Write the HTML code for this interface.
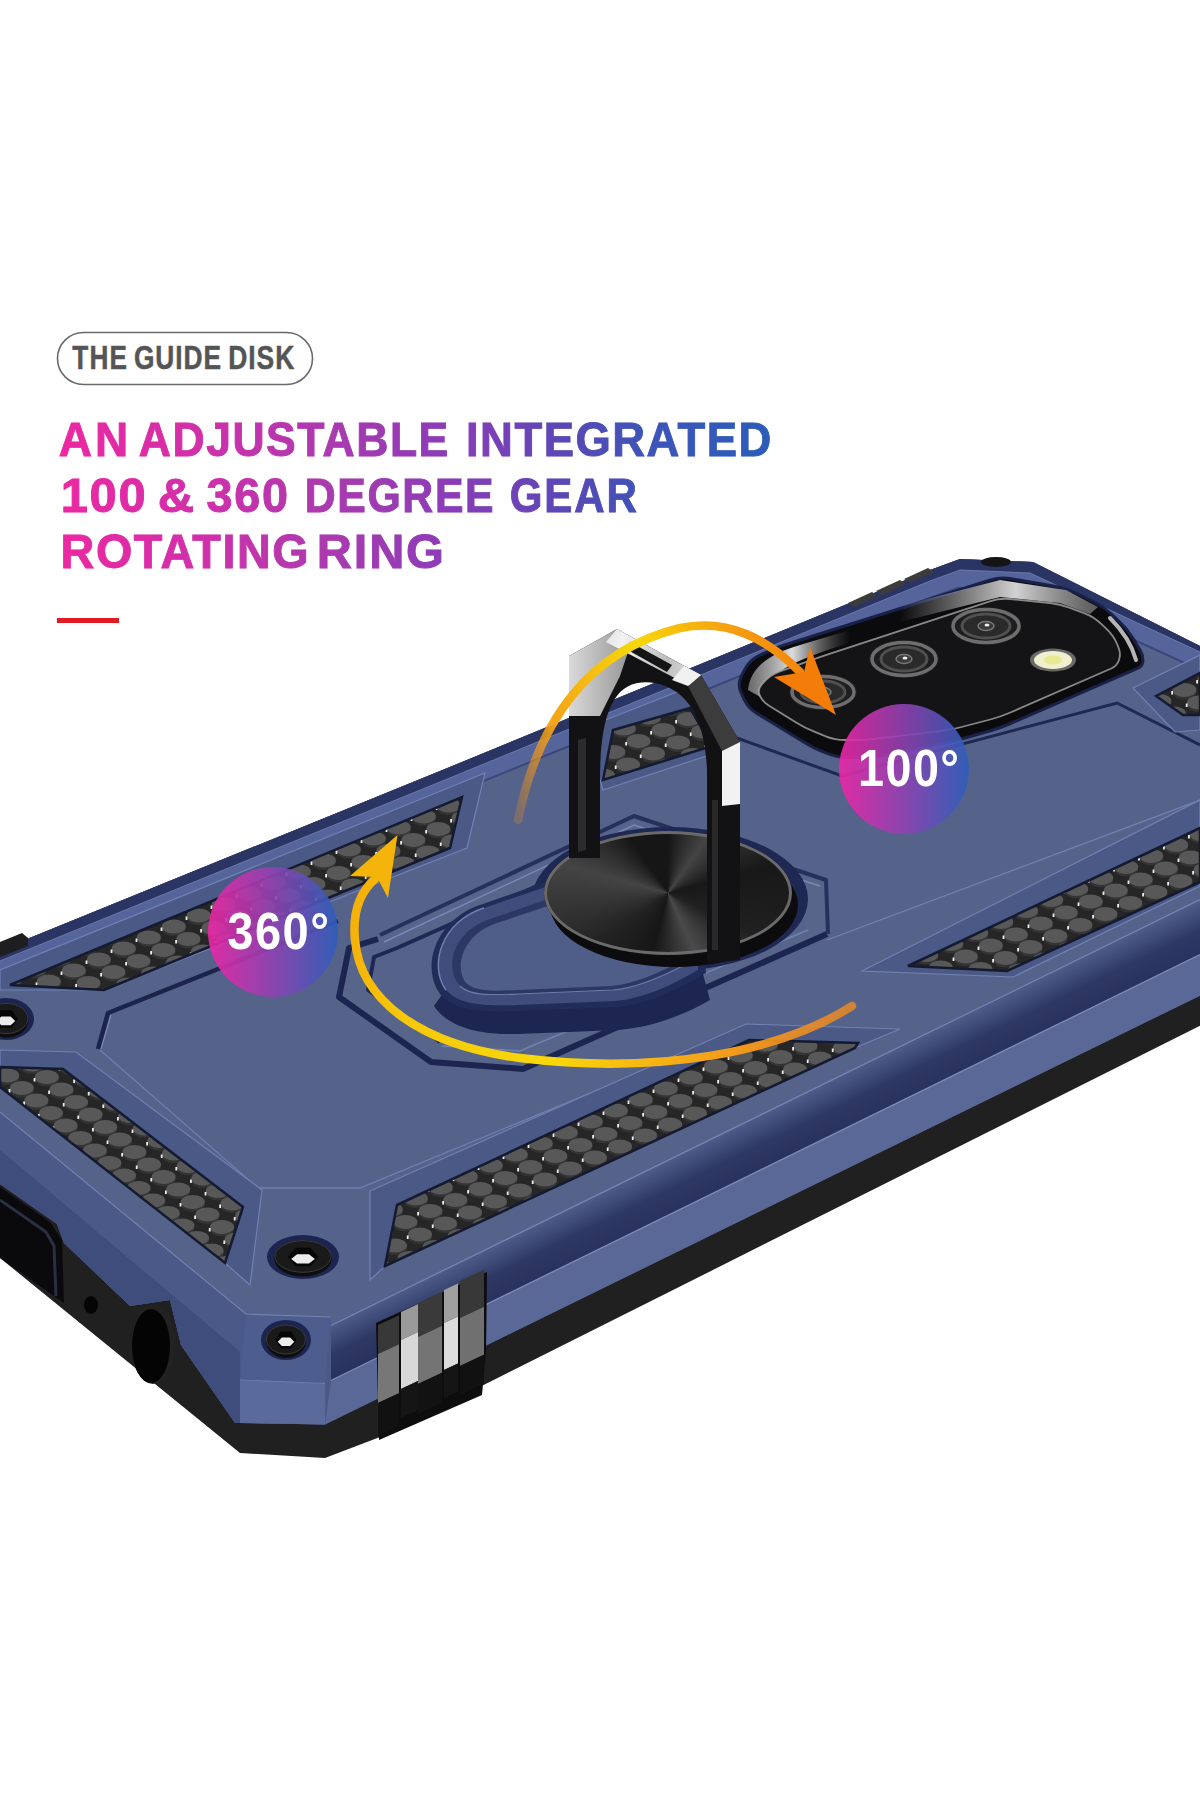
<!DOCTYPE html>
<html><head><meta charset="utf-8">
<style>
html,body{margin:0;padding:0;background:#fff;}
body{width:1200px;height:1800px;overflow:hidden;position:relative;font-family:"Liberation Sans",sans-serif;}
svg{position:absolute;left:0;top:0;}
</style></head>
<body>
<svg width="1200" height="1800" viewBox="0 0 1200 1800">
<defs>
  <linearGradient id="tg" gradientUnits="userSpaceOnUse" x1="60" y1="0" x2="772" y2="0">
    <stop offset="0" stop-color="#ec28a2"/>
    <stop offset="0.2" stop-color="#d030aa"/>
    <stop offset="0.38" stop-color="#aa3aaf"/>
    <stop offset="0.55" stop-color="#8a3cb8"/>
    <stop offset="0.7" stop-color="#5c47b6"/>
    <stop offset="0.82" stop-color="#3e54b8"/>
    <stop offset="1" stop-color="#2b5db8"/>
  </linearGradient>
  <linearGradient id="cg" x1="0" y1="0" x2="1" y2="0">
    <stop offset="0" stop-color="#ee26a6"/>
    <stop offset="0.5" stop-color="#8f42b2"/>
    <stop offset="1" stop-color="#2d5eba"/>
  </linearGradient>
  <pattern id="hc" patternUnits="userSpaceOnUse" width="20" height="28" patternTransform="matrix(1,-0.45,0,1,0,0)">
    <rect width="20" height="28" fill="#222"/>
    <rect x="9" y="5" width="2" height="4" fill="#ddd"/>
    <rect x="-1" y="19" width="2" height="4" fill="#ddd"/>
    <rect x="19" y="19" width="2" height="4" fill="#ddd"/>
    <ellipse cx="0" cy="0" rx="9.3" ry="6.6" fill="#575757"/>
    <ellipse cx="20" cy="0" rx="9.3" ry="6.6" fill="#575757"/>
    <ellipse cx="10" cy="14" rx="9.3" ry="6.6" fill="#575757"/>
    <ellipse cx="0" cy="28" rx="9.3" ry="6.6" fill="#575757"/>
    <ellipse cx="20" cy="28" rx="9.3" ry="6.6" fill="#575757"/>
  </pattern>
  <linearGradient id="arr1" gradientUnits="userSpaceOnUse" x1="850" y1="1000" x2="360" y2="880">
    <stop offset="0" stop-color="#f08a20" stop-opacity="0.8"/>
    <stop offset="0.2" stop-color="#f39a1c"/>
    <stop offset="0.55" stop-color="#f8d80a"/>
    <stop offset="0.85" stop-color="#f6c80a"/>
    <stop offset="1" stop-color="#f5b00a"/>
  </linearGradient>
  <linearGradient id="arr2" gradientUnits="userSpaceOnUse" x1="520" y1="820" x2="840" y2="700">
    <stop offset="0" stop-color="#f08a1a" stop-opacity="0.25"/>
    <stop offset="0.2" stop-color="#f4a516"/>
    <stop offset="0.5" stop-color="#f7d80a"/>
    <stop offset="0.8" stop-color="#f59a10"/>
    <stop offset="1" stop-color="#f47c08"/>
  </linearGradient>
  <linearGradient id="silver" gradientUnits="userSpaceOnUse" x1="570" y1="650" x2="720" y2="700">
    <stop offset="0" stop-color="#d0d0d0"/>
    <stop offset="0.3" stop-color="#f2f2f2"/>
    <stop offset="0.6" stop-color="#bdbdbd"/>
    <stop offset="1" stop-color="#ffffff"/>
  </linearGradient>
  <linearGradient id="groove" gradientUnits="userSpaceOnUse" x1="0" y1="0" x2="0.49" y2="1">
    <stop offset="0" stop-color="#4f5f8e"/>
    <stop offset="1" stop-color="#3a4878"/>
  </linearGradient>
  <linearGradient id="sideL" gradientUnits="userSpaceOnUse" x1="0" y1="1150" x2="-60" y2="1240">
    <stop offset="0" stop-color="#4a5a8a"/>
    <stop offset="1" stop-color="#2f3b6a"/>
  </linearGradient>
</defs>
<rect x="57.5" y="332.5" width="255" height="52" rx="26" ry="26" fill="#fff" stroke="#6a6a6a" stroke-width="1.6"/>
<g font-family="Liberation Sans" font-weight="bold" fill="#555" stroke="#555" stroke-width="0.5"><text transform="translate(72.50,368.75) scale(0.7940,1)" x="-0.40" y="0" font-size="33" letter-spacing="1.52" >THE</text><text transform="translate(135.00,368.75) scale(0.7971,1)" x="-1.39" y="0" font-size="33" letter-spacing="1.20" >GUIDE</text><text transform="translate(230.00,368.75) scale(0.8004,1)" x="-2.18" y="0" font-size="33" letter-spacing="1.20" >DISK</text></g>
<mask id="tmask" maskUnits="userSpaceOnUse" x="0" y="380" width="1200" height="220"><g font-family="Liberation Sans" font-weight="bold" fill="#fff" stroke="#fff" stroke-width="0.9"><text transform="translate(60.00,455.5) scale(0.9481,1)" x="-1.26" y="0" font-size="48.5" letter-spacing="3.09" >AN</text><text transform="translate(140.00,455.5) scale(0.9172,1)" x="-1.26" y="0" font-size="48.5" letter-spacing="1.67" >ADJUSTABLE</text><text transform="translate(469.00,455.5) scale(0.9365,1)" x="-3.20" y="0" font-size="48.5" letter-spacing="1.60" >INTEGRATED</text><text transform="translate(63.75,511.5) scale(1.0072,1)" x="-3.10" y="0" font-size="48.5" letter-spacing="1.79" >100</text><text transform="translate(160.00,511.5) scale(1.0373,1)" x="-2.13" y="0" font-size="48.5" letter-spacing="0.00" >&amp;</text><text transform="translate(207.50,511.5) scale(0.9637,1)" x="-1.16" y="0" font-size="48.5" letter-spacing="1.83" >360</text><text transform="translate(307.50,511.5) scale(0.8822,1)" x="-3.20" y="0" font-size="48.5" letter-spacing="1.88" >DEGREE</text><text transform="translate(511.50,511.5) scale(0.8669,1)" x="-2.04" y="0" font-size="48.5" letter-spacing="2.15" >GEAR</text><text transform="translate(63.70,567.5) scale(0.9646,1)" x="-3.20" y="0" font-size="48.5" letter-spacing="1.61" >ROTATING</text><text transform="translate(320.00,567.5) scale(1.0045,1)" x="-3.20" y="0" font-size="48.5" letter-spacing="1.81" >RING</text></g></mask>
<rect x="0" y="380" width="1200" height="220" fill="url(#tg)" mask="url(#tmask)"/>
<rect x="57" y="618" width="62" height="5" fill="#e01b22"/>
<polygon points="0,950 440,771 930,570 960,559 1033,562 1200,646 1200,1025.65 380,1437 325,1458 240,1453 0,1258" fill="#202021"/>
<polygon points="0,950 440,771 930,570 960,559 1033,562 1200,646 1200,995.6500000000001 325,1424.4 240,1423 235,1423 181,1345 170,1300 130,1306 64,1243 57,1224 0,1184" fill="#55638a"/>
<linearGradient id="grv" gradientUnits="userSpaceOnUse" x1="700" y1="1144.6" x2="721.7" y2="1189"><stop offset="0" stop-color="#4e5c8a"/><stop offset="0.55" stop-color="#2e3864"/><stop offset="1" stop-color="#28325d"/></linearGradient>
<polygon points="331,1325.46 1200,899.6500000000001 1200,954.6500000000001 331,1380.46" fill="url(#grv)"/>
<polygon points="331,1380.46 1200,954.6500000000001 1200,995.6500000000001 325,1424.4" fill="#5a6898"/>
<polyline points="331,1380.46 1200,954.6500000000001" fill="none" stroke="#7e8cbc" stroke-width="1.3"/>
<polyline points="331,1325.46 1200,899.6500000000001" fill="none" stroke="#7585b5" stroke-width="1.2"/>
<polygon points="0,1112 246,1314 331,1317 331,1380.46 325,1424.4 240,1423 235,1423 181,1345 170,1300 130,1306 64,1243 57,1224 0,1184" fill="#4a5987"/>
<polygon points="0,1150 240,1352 240,1423 235,1423 181,1345 170,1300 130,1306 64,1243 57,1224 0,1184" fill="#3f4d7d"/>
<polygon points="240,1380 325,1383.4 325,1424.4 240,1423" fill="#5a6a9a"/>
<polygon points="246,1314 331,1317 325,1383.4 240,1380" fill="#4d5d8e"/>
<polyline points="0,1112 246,1314 331,1317" fill="none" stroke="#7282b2" stroke-width="1.2"/>
<polyline points="240,1380 325,1383.4" fill="none" stroke="#6c7cae" stroke-width="1"/>
<polygon points="0,1187 50,1222 62,1240 64,1303 0,1258" fill="#0a0a0c"/>
<polyline points="0,1200 46,1232 54,1246 56,1296" fill="none" stroke="#2a2f44" stroke-width="3"/>
<ellipse cx="91" cy="1305" rx="7" ry="9" fill="#050505"/>
<ellipse cx="153" cy="1344" rx="22" ry="40" fill="#222"/>
<ellipse cx="151" cy="1346" rx="19" ry="37" fill="#040404"/>
<polygon points="0,950 440,771 930,570 960,559 1033,562 1200,646 1200,652 1030,573 960,570 930,581 440,782 0,961" fill="#2b3563"/>
<polygon points="0,961 440,782 930,581 960,570 1030,573 1200,652 1200,670 1028,591 958,588 930,598 440,799 0,978" fill="#55649a"/>
<polyline points="0,978 440,799 930,598 958,588 1028,591 1200,670" fill="none" stroke="#3a477a" stroke-width="2"/>
<polyline points="0,961 440,782 930,581 960,570 1030,573 1200,652" fill="none" stroke="#6877ab" stroke-width="1"/>
<polyline points="98,1049 108,1013 338,921" fill="none" stroke="#1c244a" stroke-width="4.5" stroke-linejoin="round"/>
<polyline points="100,1050 258,1188 360,1188 622,1080" fill="none" stroke="#6f7fb0" stroke-width="1.3"/>
<polyline points="101,1049 111,1015" fill="none" stroke="#8090c0" stroke-width="1"/>
<polyline points="737,738 842,776 1117,703 1200,745" fill="none" stroke="#1f2850" stroke-width="3"/>
<polyline points="827,940 1200,800" fill="none" stroke="#7383b3" stroke-width="1.2"/>
<defs><g id="hx"><ellipse cx="0" cy="2.5" rx="12" ry="7" fill="#343434"/><ellipse cx="0" cy="0" rx="12" ry="7" fill="#585858"/><rect x="-13.2" y="1" width="1.8" height="3.5" fill="#eeeeee"/></g></defs>
<polygon points="0,970 485,773 467,848 104,990 0,990" fill="#4b5987" stroke="#7181b3" stroke-width="1.2"/>
<clipPath id="hcl1"><polygon points="10,985 462,797 450,848 104,990"/></clipPath>
<g clip-path="url(#hcl1)"><polygon points="10,985 462,797 450,848 104,990" fill="#262626"/>
<use href="#hx" x="9.2" y="980.0"/><use href="#hx" x="23.8" y="992.5"/><use href="#hx" x="5.0" y="944.0"/><use href="#hx" x="19.6" y="956.5"/><use href="#hx" x="34.2" y="969.0"/><use href="#hx" x="48.8" y="981.5"/><use href="#hx" x="63.4" y="994.0"/><use href="#hx" x="0.8" y="908.0"/><use href="#hx" x="15.4" y="920.5"/><use href="#hx" x="30.0" y="933.0"/><use href="#hx" x="44.6" y="945.5"/><use href="#hx" x="59.2" y="958.0"/><use href="#hx" x="73.8" y="970.5"/><use href="#hx" x="88.4" y="983.0"/><use href="#hx" x="103.0" y="995.5"/><use href="#hx" x="-3.4" y="872.0"/><use href="#hx" x="11.2" y="884.5"/><use href="#hx" x="25.8" y="897.0"/><use href="#hx" x="40.4" y="909.5"/><use href="#hx" x="55.0" y="922.0"/><use href="#hx" x="69.6" y="934.5"/><use href="#hx" x="84.2" y="947.0"/><use href="#hx" x="98.8" y="959.5"/><use href="#hx" x="113.4" y="972.0"/><use href="#hx" x="128.0" y="984.5"/><use href="#hx" x="142.6" y="997.0"/><use href="#hx" x="7.0" y="848.5"/><use href="#hx" x="21.6" y="861.0"/><use href="#hx" x="36.2" y="873.5"/><use href="#hx" x="50.8" y="886.0"/><use href="#hx" x="65.4" y="898.5"/><use href="#hx" x="80.0" y="911.0"/><use href="#hx" x="94.6" y="923.5"/><use href="#hx" x="109.2" y="936.0"/><use href="#hx" x="123.8" y="948.5"/><use href="#hx" x="138.4" y="961.0"/><use href="#hx" x="153.0" y="973.5"/><use href="#hx" x="167.6" y="986.0"/><use href="#hx" x="182.2" y="998.5"/><use href="#hx" x="2.8" y="812.5"/><use href="#hx" x="17.4" y="825.0"/><use href="#hx" x="32.0" y="837.5"/><use href="#hx" x="46.6" y="850.0"/><use href="#hx" x="61.2" y="862.5"/><use href="#hx" x="75.8" y="875.0"/><use href="#hx" x="90.4" y="887.5"/><use href="#hx" x="105.0" y="900.0"/><use href="#hx" x="119.6" y="912.5"/><use href="#hx" x="134.2" y="925.0"/><use href="#hx" x="148.8" y="937.5"/><use href="#hx" x="163.4" y="950.0"/><use href="#hx" x="178.0" y="962.5"/><use href="#hx" x="192.6" y="975.0"/><use href="#hx" x="207.2" y="987.5"/><use href="#hx" x="221.8" y="1000.0"/><use href="#hx" x="13.2" y="789.0"/><use href="#hx" x="27.8" y="801.5"/><use href="#hx" x="42.4" y="814.0"/><use href="#hx" x="57.0" y="826.5"/><use href="#hx" x="71.6" y="839.0"/><use href="#hx" x="86.2" y="851.5"/><use href="#hx" x="100.8" y="864.0"/><use href="#hx" x="115.4" y="876.5"/><use href="#hx" x="130.0" y="889.0"/><use href="#hx" x="144.6" y="901.5"/><use href="#hx" x="159.2" y="914.0"/><use href="#hx" x="173.8" y="926.5"/><use href="#hx" x="188.4" y="939.0"/><use href="#hx" x="203.0" y="951.5"/><use href="#hx" x="217.6" y="964.0"/><use href="#hx" x="232.2" y="976.5"/><use href="#hx" x="246.8" y="989.0"/><use href="#hx" x="52.8" y="790.5"/><use href="#hx" x="67.4" y="803.0"/><use href="#hx" x="82.0" y="815.5"/><use href="#hx" x="96.6" y="828.0"/><use href="#hx" x="111.2" y="840.5"/><use href="#hx" x="125.8" y="853.0"/><use href="#hx" x="140.4" y="865.5"/><use href="#hx" x="155.0" y="878.0"/><use href="#hx" x="169.6" y="890.5"/><use href="#hx" x="184.2" y="903.0"/><use href="#hx" x="198.8" y="915.5"/><use href="#hx" x="213.4" y="928.0"/><use href="#hx" x="228.0" y="940.5"/><use href="#hx" x="242.6" y="953.0"/><use href="#hx" x="257.2" y="965.5"/><use href="#hx" x="271.8" y="978.0"/><use href="#hx" x="286.4" y="990.5"/><use href="#hx" x="92.4" y="792.0"/><use href="#hx" x="107.0" y="804.5"/><use href="#hx" x="121.6" y="817.0"/><use href="#hx" x="136.2" y="829.5"/><use href="#hx" x="150.8" y="842.0"/><use href="#hx" x="165.4" y="854.5"/><use href="#hx" x="180.0" y="867.0"/><use href="#hx" x="194.6" y="879.5"/><use href="#hx" x="209.2" y="892.0"/><use href="#hx" x="223.8" y="904.5"/><use href="#hx" x="238.4" y="917.0"/><use href="#hx" x="253.0" y="929.5"/><use href="#hx" x="267.6" y="942.0"/><use href="#hx" x="282.2" y="954.5"/><use href="#hx" x="296.8" y="967.0"/><use href="#hx" x="311.4" y="979.5"/><use href="#hx" x="326.0" y="992.0"/><use href="#hx" x="132.0" y="793.5"/><use href="#hx" x="146.6" y="806.0"/><use href="#hx" x="161.2" y="818.5"/><use href="#hx" x="175.8" y="831.0"/><use href="#hx" x="190.4" y="843.5"/><use href="#hx" x="205.0" y="856.0"/><use href="#hx" x="219.6" y="868.5"/><use href="#hx" x="234.2" y="881.0"/><use href="#hx" x="248.8" y="893.5"/><use href="#hx" x="263.4" y="906.0"/><use href="#hx" x="278.0" y="918.5"/><use href="#hx" x="292.6" y="931.0"/><use href="#hx" x="307.2" y="943.5"/><use href="#hx" x="321.8" y="956.0"/><use href="#hx" x="336.4" y="968.5"/><use href="#hx" x="351.0" y="981.0"/><use href="#hx" x="365.6" y="993.5"/><use href="#hx" x="171.6" y="795.0"/><use href="#hx" x="186.2" y="807.5"/><use href="#hx" x="200.8" y="820.0"/><use href="#hx" x="215.4" y="832.5"/><use href="#hx" x="230.0" y="845.0"/><use href="#hx" x="244.6" y="857.5"/><use href="#hx" x="259.2" y="870.0"/><use href="#hx" x="273.8" y="882.5"/><use href="#hx" x="288.4" y="895.0"/><use href="#hx" x="303.0" y="907.5"/><use href="#hx" x="317.6" y="920.0"/><use href="#hx" x="332.2" y="932.5"/><use href="#hx" x="346.8" y="945.0"/><use href="#hx" x="361.4" y="957.5"/><use href="#hx" x="376.0" y="970.0"/><use href="#hx" x="390.6" y="982.5"/><use href="#hx" x="405.2" y="995.0"/><use href="#hx" x="211.2" y="796.5"/><use href="#hx" x="225.8" y="809.0"/><use href="#hx" x="240.4" y="821.5"/><use href="#hx" x="255.0" y="834.0"/><use href="#hx" x="269.6" y="846.5"/><use href="#hx" x="284.2" y="859.0"/><use href="#hx" x="298.8" y="871.5"/><use href="#hx" x="313.4" y="884.0"/><use href="#hx" x="328.0" y="896.5"/><use href="#hx" x="342.6" y="909.0"/><use href="#hx" x="357.2" y="921.5"/><use href="#hx" x="371.8" y="934.0"/><use href="#hx" x="386.4" y="946.5"/><use href="#hx" x="401.0" y="959.0"/><use href="#hx" x="415.6" y="971.5"/><use href="#hx" x="430.2" y="984.0"/><use href="#hx" x="444.8" y="996.5"/><use href="#hx" x="250.8" y="798.0"/><use href="#hx" x="265.4" y="810.5"/><use href="#hx" x="280.0" y="823.0"/><use href="#hx" x="294.6" y="835.5"/><use href="#hx" x="309.2" y="848.0"/><use href="#hx" x="323.8" y="860.5"/><use href="#hx" x="338.4" y="873.0"/><use href="#hx" x="353.0" y="885.5"/><use href="#hx" x="367.6" y="898.0"/><use href="#hx" x="382.2" y="910.5"/><use href="#hx" x="396.8" y="923.0"/><use href="#hx" x="411.4" y="935.5"/><use href="#hx" x="426.0" y="948.0"/><use href="#hx" x="440.6" y="960.5"/><use href="#hx" x="455.2" y="973.0"/><use href="#hx" x="469.8" y="985.5"/><use href="#hx" x="275.8" y="787.0"/><use href="#hx" x="290.4" y="799.5"/><use href="#hx" x="305.0" y="812.0"/><use href="#hx" x="319.6" y="824.5"/><use href="#hx" x="334.2" y="837.0"/><use href="#hx" x="348.8" y="849.5"/><use href="#hx" x="363.4" y="862.0"/><use href="#hx" x="378.0" y="874.5"/><use href="#hx" x="392.6" y="887.0"/><use href="#hx" x="407.2" y="899.5"/><use href="#hx" x="421.8" y="912.0"/><use href="#hx" x="436.4" y="924.5"/><use href="#hx" x="451.0" y="937.0"/><use href="#hx" x="465.6" y="949.5"/><use href="#hx" x="315.4" y="788.5"/><use href="#hx" x="330.0" y="801.0"/><use href="#hx" x="344.6" y="813.5"/><use href="#hx" x="359.2" y="826.0"/><use href="#hx" x="373.8" y="838.5"/><use href="#hx" x="388.4" y="851.0"/><use href="#hx" x="403.0" y="863.5"/><use href="#hx" x="417.6" y="876.0"/><use href="#hx" x="432.2" y="888.5"/><use href="#hx" x="446.8" y="901.0"/><use href="#hx" x="461.4" y="913.5"/><use href="#hx" x="476.0" y="926.0"/><use href="#hx" x="355.0" y="790.0"/><use href="#hx" x="369.6" y="802.5"/><use href="#hx" x="384.2" y="815.0"/><use href="#hx" x="398.8" y="827.5"/><use href="#hx" x="413.4" y="840.0"/><use href="#hx" x="428.0" y="852.5"/><use href="#hx" x="442.6" y="865.0"/><use href="#hx" x="457.2" y="877.5"/><use href="#hx" x="471.8" y="890.0"/><use href="#hx" x="394.6" y="791.5"/><use href="#hx" x="409.2" y="804.0"/><use href="#hx" x="423.8" y="816.5"/><use href="#hx" x="438.4" y="829.0"/><use href="#hx" x="453.0" y="841.5"/><use href="#hx" x="467.6" y="854.0"/><use href="#hx" x="434.2" y="793.0"/><use href="#hx" x="448.8" y="805.5"/><use href="#hx" x="463.4" y="818.0"/><use href="#hx" x="473.8" y="794.5"/></g>
<polygon points="10,985 462,797 450,848 104,990" fill="none" stroke="#141a30" stroke-width="2.5"/>
<polygon points="585,728 700,683 740,745 603,790" fill="#4b5987" stroke="#7181b3" stroke-width="1.2"/>
<clipPath id="hcl2"><polygon points="603,780 613,730 690,708 712,746"/></clipPath>
<g clip-path="url(#hcl2)"><polygon points="603,780 613,730 690,708 712,746" fill="#262626"/>
<use href="#hx" x="603.0" y="775.5"/><use href="#hx" x="617.6" y="788.0"/><use href="#hx" x="598.8" y="739.5"/><use href="#hx" x="613.4" y="752.0"/><use href="#hx" x="628.0" y="764.5"/><use href="#hx" x="642.6" y="777.0"/><use href="#hx" x="657.2" y="789.5"/><use href="#hx" x="594.6" y="703.5"/><use href="#hx" x="609.2" y="716.0"/><use href="#hx" x="623.8" y="728.5"/><use href="#hx" x="638.4" y="741.0"/><use href="#hx" x="653.0" y="753.5"/><use href="#hx" x="667.6" y="766.0"/><use href="#hx" x="682.2" y="778.5"/><use href="#hx" x="634.2" y="705.0"/><use href="#hx" x="648.8" y="717.5"/><use href="#hx" x="663.4" y="730.0"/><use href="#hx" x="678.0" y="742.5"/><use href="#hx" x="692.6" y="755.0"/><use href="#hx" x="707.2" y="767.5"/><use href="#hx" x="721.8" y="780.0"/><use href="#hx" x="673.8" y="706.5"/><use href="#hx" x="688.4" y="719.0"/><use href="#hx" x="703.0" y="731.5"/><use href="#hx" x="717.6" y="744.0"/><use href="#hx" x="713.4" y="708.0"/></g>
<polygon points="603,780 613,730 690,708 712,746" fill="none" stroke="#141a30" stroke-width="2.5"/>
<polygon points="1133,688 1200,655 1200,730 1175,732" fill="#4b5987" stroke="#7181b3" stroke-width="1.2"/>
<clipPath id="hcl3"><polygon points="1156,696 1200,673 1200,715 1183,715"/></clipPath>
<g clip-path="url(#hcl3)"><polygon points="1156,696 1200,673 1200,715 1183,715" fill="#262626"/>
<use href="#hx" x="1149.0" y="724.5"/><use href="#hx" x="1144.8" y="688.5"/><use href="#hx" x="1159.4" y="701.0"/><use href="#hx" x="1174.0" y="713.5"/><use href="#hx" x="1155.2" y="665.0"/><use href="#hx" x="1169.8" y="677.5"/><use href="#hx" x="1184.4" y="690.0"/><use href="#hx" x="1199.0" y="702.5"/><use href="#hx" x="1213.6" y="715.0"/><use href="#hx" x="1194.8" y="666.5"/><use href="#hx" x="1209.4" y="679.0"/></g>
<polygon points="1156,696 1200,673 1200,715 1183,715" fill="none" stroke="#141a30" stroke-width="2.5"/>
<polygon points="862,971 1200,800 1200,886 1013,977" fill="#4b5987" stroke="#7181b3" stroke-width="1.2"/>
<clipPath id="hcl4"><polygon points="908,966 1200,828 1200,882 1007,971"/></clipPath>
<g clip-path="url(#hcl4)"><polygon points="908,966 1200,828 1200,882 1007,971" fill="#262626"/>
<use href="#hx" x="901.2" y="966.0"/><use href="#hx" x="915.8" y="978.5"/><use href="#hx" x="897.0" y="930.0"/><use href="#hx" x="911.6" y="942.5"/><use href="#hx" x="926.2" y="955.0"/><use href="#hx" x="940.8" y="967.5"/><use href="#hx" x="955.4" y="980.0"/><use href="#hx" x="907.4" y="906.5"/><use href="#hx" x="922.0" y="919.0"/><use href="#hx" x="936.6" y="931.5"/><use href="#hx" x="951.2" y="944.0"/><use href="#hx" x="965.8" y="956.5"/><use href="#hx" x="980.4" y="969.0"/><use href="#hx" x="903.2" y="870.5"/><use href="#hx" x="917.8" y="883.0"/><use href="#hx" x="932.4" y="895.5"/><use href="#hx" x="947.0" y="908.0"/><use href="#hx" x="961.6" y="920.5"/><use href="#hx" x="976.2" y="933.0"/><use href="#hx" x="990.8" y="945.5"/><use href="#hx" x="1005.4" y="958.0"/><use href="#hx" x="1020.0" y="970.5"/><use href="#hx" x="899.0" y="834.5"/><use href="#hx" x="913.6" y="847.0"/><use href="#hx" x="928.2" y="859.5"/><use href="#hx" x="942.8" y="872.0"/><use href="#hx" x="957.4" y="884.5"/><use href="#hx" x="972.0" y="897.0"/><use href="#hx" x="986.6" y="909.5"/><use href="#hx" x="1001.2" y="922.0"/><use href="#hx" x="1015.8" y="934.5"/><use href="#hx" x="1030.4" y="947.0"/><use href="#hx" x="1045.0" y="959.5"/><use href="#hx" x="1059.6" y="972.0"/><use href="#hx" x="924.0" y="823.5"/><use href="#hx" x="938.6" y="836.0"/><use href="#hx" x="953.2" y="848.5"/><use href="#hx" x="967.8" y="861.0"/><use href="#hx" x="982.4" y="873.5"/><use href="#hx" x="997.0" y="886.0"/><use href="#hx" x="1011.6" y="898.5"/><use href="#hx" x="1026.2" y="911.0"/><use href="#hx" x="1040.8" y="923.5"/><use href="#hx" x="1055.4" y="936.0"/><use href="#hx" x="1070.0" y="948.5"/><use href="#hx" x="1084.6" y="961.0"/><use href="#hx" x="1099.2" y="973.5"/><use href="#hx" x="963.6" y="825.0"/><use href="#hx" x="978.2" y="837.5"/><use href="#hx" x="992.8" y="850.0"/><use href="#hx" x="1007.4" y="862.5"/><use href="#hx" x="1022.0" y="875.0"/><use href="#hx" x="1036.6" y="887.5"/><use href="#hx" x="1051.2" y="900.0"/><use href="#hx" x="1065.8" y="912.5"/><use href="#hx" x="1080.4" y="925.0"/><use href="#hx" x="1095.0" y="937.5"/><use href="#hx" x="1109.6" y="950.0"/><use href="#hx" x="1124.2" y="962.5"/><use href="#hx" x="1138.8" y="975.0"/><use href="#hx" x="1003.2" y="826.5"/><use href="#hx" x="1017.8" y="839.0"/><use href="#hx" x="1032.4" y="851.5"/><use href="#hx" x="1047.0" y="864.0"/><use href="#hx" x="1061.6" y="876.5"/><use href="#hx" x="1076.2" y="889.0"/><use href="#hx" x="1090.8" y="901.5"/><use href="#hx" x="1105.4" y="914.0"/><use href="#hx" x="1120.0" y="926.5"/><use href="#hx" x="1134.6" y="939.0"/><use href="#hx" x="1149.2" y="951.5"/><use href="#hx" x="1163.8" y="964.0"/><use href="#hx" x="1178.4" y="976.5"/><use href="#hx" x="1042.8" y="828.0"/><use href="#hx" x="1057.4" y="840.5"/><use href="#hx" x="1072.0" y="853.0"/><use href="#hx" x="1086.6" y="865.5"/><use href="#hx" x="1101.2" y="878.0"/><use href="#hx" x="1115.8" y="890.5"/><use href="#hx" x="1130.4" y="903.0"/><use href="#hx" x="1145.0" y="915.5"/><use href="#hx" x="1159.6" y="928.0"/><use href="#hx" x="1174.2" y="940.5"/><use href="#hx" x="1188.8" y="953.0"/><use href="#hx" x="1203.4" y="965.5"/><use href="#hx" x="1082.4" y="829.5"/><use href="#hx" x="1097.0" y="842.0"/><use href="#hx" x="1111.6" y="854.5"/><use href="#hx" x="1126.2" y="867.0"/><use href="#hx" x="1140.8" y="879.5"/><use href="#hx" x="1155.4" y="892.0"/><use href="#hx" x="1170.0" y="904.5"/><use href="#hx" x="1184.6" y="917.0"/><use href="#hx" x="1199.2" y="929.5"/><use href="#hx" x="1213.8" y="942.0"/><use href="#hx" x="1107.4" y="818.5"/><use href="#hx" x="1122.0" y="831.0"/><use href="#hx" x="1136.6" y="843.5"/><use href="#hx" x="1151.2" y="856.0"/><use href="#hx" x="1165.8" y="868.5"/><use href="#hx" x="1180.4" y="881.0"/><use href="#hx" x="1195.0" y="893.5"/><use href="#hx" x="1209.6" y="906.0"/><use href="#hx" x="1147.0" y="820.0"/><use href="#hx" x="1161.6" y="832.5"/><use href="#hx" x="1176.2" y="845.0"/><use href="#hx" x="1190.8" y="857.5"/><use href="#hx" x="1205.4" y="870.0"/><use href="#hx" x="1186.6" y="821.5"/><use href="#hx" x="1201.2" y="834.0"/></g>
<polygon points="908,966 1200,828 1200,882 1007,971" fill="none" stroke="#141a30" stroke-width="2.5"/>
<polygon points="370,1191 746,1024 900,1029 857,1047 385,1266 370,1280" fill="#4b5987" stroke="#7181b3" stroke-width="1.2"/>
<clipPath id="hcl5"><polygon points="397,1205 749,1040 858,1043 855,1048 385,1266"/></clipPath>
<g clip-path="url(#hcl5)"><polygon points="397,1205 749,1040 858,1043 855,1048 385,1266" fill="#262626"/>
<use href="#hx" x="384.6" y="1269.0"/><use href="#hx" x="380.4" y="1233.0"/><use href="#hx" x="395.0" y="1245.5"/><use href="#hx" x="409.6" y="1258.0"/><use href="#hx" x="424.2" y="1270.5"/><use href="#hx" x="376.2" y="1197.0"/><use href="#hx" x="390.8" y="1209.5"/><use href="#hx" x="405.4" y="1222.0"/><use href="#hx" x="420.0" y="1234.5"/><use href="#hx" x="434.6" y="1247.0"/><use href="#hx" x="449.2" y="1259.5"/><use href="#hx" x="463.8" y="1272.0"/><use href="#hx" x="372.0" y="1161.0"/><use href="#hx" x="386.6" y="1173.5"/><use href="#hx" x="401.2" y="1186.0"/><use href="#hx" x="415.8" y="1198.5"/><use href="#hx" x="430.4" y="1211.0"/><use href="#hx" x="445.0" y="1223.5"/><use href="#hx" x="459.6" y="1236.0"/><use href="#hx" x="474.2" y="1248.5"/><use href="#hx" x="488.8" y="1261.0"/><use href="#hx" x="503.4" y="1273.5"/><use href="#hx" x="382.4" y="1137.5"/><use href="#hx" x="397.0" y="1150.0"/><use href="#hx" x="411.6" y="1162.5"/><use href="#hx" x="426.2" y="1175.0"/><use href="#hx" x="440.8" y="1187.5"/><use href="#hx" x="455.4" y="1200.0"/><use href="#hx" x="470.0" y="1212.5"/><use href="#hx" x="484.6" y="1225.0"/><use href="#hx" x="499.2" y="1237.5"/><use href="#hx" x="513.8" y="1250.0"/><use href="#hx" x="528.4" y="1262.5"/><use href="#hx" x="543.0" y="1275.0"/><use href="#hx" x="378.2" y="1101.5"/><use href="#hx" x="392.8" y="1114.0"/><use href="#hx" x="407.4" y="1126.5"/><use href="#hx" x="422.0" y="1139.0"/><use href="#hx" x="436.6" y="1151.5"/><use href="#hx" x="451.2" y="1164.0"/><use href="#hx" x="465.8" y="1176.5"/><use href="#hx" x="480.4" y="1189.0"/><use href="#hx" x="495.0" y="1201.5"/><use href="#hx" x="509.6" y="1214.0"/><use href="#hx" x="524.2" y="1226.5"/><use href="#hx" x="538.8" y="1239.0"/><use href="#hx" x="553.4" y="1251.5"/><use href="#hx" x="568.0" y="1264.0"/><use href="#hx" x="374.0" y="1065.5"/><use href="#hx" x="388.6" y="1078.0"/><use href="#hx" x="403.2" y="1090.5"/><use href="#hx" x="417.8" y="1103.0"/><use href="#hx" x="432.4" y="1115.5"/><use href="#hx" x="447.0" y="1128.0"/><use href="#hx" x="461.6" y="1140.5"/><use href="#hx" x="476.2" y="1153.0"/><use href="#hx" x="490.8" y="1165.5"/><use href="#hx" x="505.4" y="1178.0"/><use href="#hx" x="520.0" y="1190.5"/><use href="#hx" x="534.6" y="1203.0"/><use href="#hx" x="549.2" y="1215.5"/><use href="#hx" x="563.8" y="1228.0"/><use href="#hx" x="578.4" y="1240.5"/><use href="#hx" x="593.0" y="1253.0"/><use href="#hx" x="607.6" y="1265.5"/><use href="#hx" x="384.4" y="1042.0"/><use href="#hx" x="399.0" y="1054.5"/><use href="#hx" x="413.6" y="1067.0"/><use href="#hx" x="428.2" y="1079.5"/><use href="#hx" x="442.8" y="1092.0"/><use href="#hx" x="457.4" y="1104.5"/><use href="#hx" x="472.0" y="1117.0"/><use href="#hx" x="486.6" y="1129.5"/><use href="#hx" x="501.2" y="1142.0"/><use href="#hx" x="515.8" y="1154.5"/><use href="#hx" x="530.4" y="1167.0"/><use href="#hx" x="545.0" y="1179.5"/><use href="#hx" x="559.6" y="1192.0"/><use href="#hx" x="574.2" y="1204.5"/><use href="#hx" x="588.8" y="1217.0"/><use href="#hx" x="603.4" y="1229.5"/><use href="#hx" x="618.0" y="1242.0"/><use href="#hx" x="632.6" y="1254.5"/><use href="#hx" x="647.2" y="1267.0"/><use href="#hx" x="409.4" y="1031.0"/><use href="#hx" x="424.0" y="1043.5"/><use href="#hx" x="438.6" y="1056.0"/><use href="#hx" x="453.2" y="1068.5"/><use href="#hx" x="467.8" y="1081.0"/><use href="#hx" x="482.4" y="1093.5"/><use href="#hx" x="497.0" y="1106.0"/><use href="#hx" x="511.6" y="1118.5"/><use href="#hx" x="526.2" y="1131.0"/><use href="#hx" x="540.8" y="1143.5"/><use href="#hx" x="555.4" y="1156.0"/><use href="#hx" x="570.0" y="1168.5"/><use href="#hx" x="584.6" y="1181.0"/><use href="#hx" x="599.2" y="1193.5"/><use href="#hx" x="613.8" y="1206.0"/><use href="#hx" x="628.4" y="1218.5"/><use href="#hx" x="643.0" y="1231.0"/><use href="#hx" x="657.6" y="1243.5"/><use href="#hx" x="672.2" y="1256.0"/><use href="#hx" x="686.8" y="1268.5"/><use href="#hx" x="449.0" y="1032.5"/><use href="#hx" x="463.6" y="1045.0"/><use href="#hx" x="478.2" y="1057.5"/><use href="#hx" x="492.8" y="1070.0"/><use href="#hx" x="507.4" y="1082.5"/><use href="#hx" x="522.0" y="1095.0"/><use href="#hx" x="536.6" y="1107.5"/><use href="#hx" x="551.2" y="1120.0"/><use href="#hx" x="565.8" y="1132.5"/><use href="#hx" x="580.4" y="1145.0"/><use href="#hx" x="595.0" y="1157.5"/><use href="#hx" x="609.6" y="1170.0"/><use href="#hx" x="624.2" y="1182.5"/><use href="#hx" x="638.8" y="1195.0"/><use href="#hx" x="653.4" y="1207.5"/><use href="#hx" x="668.0" y="1220.0"/><use href="#hx" x="682.6" y="1232.5"/><use href="#hx" x="697.2" y="1245.0"/><use href="#hx" x="711.8" y="1257.5"/><use href="#hx" x="726.4" y="1270.0"/><use href="#hx" x="488.6" y="1034.0"/><use href="#hx" x="503.2" y="1046.5"/><use href="#hx" x="517.8" y="1059.0"/><use href="#hx" x="532.4" y="1071.5"/><use href="#hx" x="547.0" y="1084.0"/><use href="#hx" x="561.6" y="1096.5"/><use href="#hx" x="576.2" y="1109.0"/><use href="#hx" x="590.8" y="1121.5"/><use href="#hx" x="605.4" y="1134.0"/><use href="#hx" x="620.0" y="1146.5"/><use href="#hx" x="634.6" y="1159.0"/><use href="#hx" x="649.2" y="1171.5"/><use href="#hx" x="663.8" y="1184.0"/><use href="#hx" x="678.4" y="1196.5"/><use href="#hx" x="693.0" y="1209.0"/><use href="#hx" x="707.6" y="1221.5"/><use href="#hx" x="722.2" y="1234.0"/><use href="#hx" x="736.8" y="1246.5"/><use href="#hx" x="751.4" y="1259.0"/><use href="#hx" x="766.0" y="1271.5"/><use href="#hx" x="528.2" y="1035.5"/><use href="#hx" x="542.8" y="1048.0"/><use href="#hx" x="557.4" y="1060.5"/><use href="#hx" x="572.0" y="1073.0"/><use href="#hx" x="586.6" y="1085.5"/><use href="#hx" x="601.2" y="1098.0"/><use href="#hx" x="615.8" y="1110.5"/><use href="#hx" x="630.4" y="1123.0"/><use href="#hx" x="645.0" y="1135.5"/><use href="#hx" x="659.6" y="1148.0"/><use href="#hx" x="674.2" y="1160.5"/><use href="#hx" x="688.8" y="1173.0"/><use href="#hx" x="703.4" y="1185.5"/><use href="#hx" x="718.0" y="1198.0"/><use href="#hx" x="732.6" y="1210.5"/><use href="#hx" x="747.2" y="1223.0"/><use href="#hx" x="761.8" y="1235.5"/><use href="#hx" x="776.4" y="1248.0"/><use href="#hx" x="791.0" y="1260.5"/><use href="#hx" x="805.6" y="1273.0"/><use href="#hx" x="567.8" y="1037.0"/><use href="#hx" x="582.4" y="1049.5"/><use href="#hx" x="597.0" y="1062.0"/><use href="#hx" x="611.6" y="1074.5"/><use href="#hx" x="626.2" y="1087.0"/><use href="#hx" x="640.8" y="1099.5"/><use href="#hx" x="655.4" y="1112.0"/><use href="#hx" x="670.0" y="1124.5"/><use href="#hx" x="684.6" y="1137.0"/><use href="#hx" x="699.2" y="1149.5"/><use href="#hx" x="713.8" y="1162.0"/><use href="#hx" x="728.4" y="1174.5"/><use href="#hx" x="743.0" y="1187.0"/><use href="#hx" x="757.6" y="1199.5"/><use href="#hx" x="772.2" y="1212.0"/><use href="#hx" x="786.8" y="1224.5"/><use href="#hx" x="801.4" y="1237.0"/><use href="#hx" x="816.0" y="1249.5"/><use href="#hx" x="830.6" y="1262.0"/><use href="#hx" x="845.2" y="1274.5"/><use href="#hx" x="607.4" y="1038.5"/><use href="#hx" x="622.0" y="1051.0"/><use href="#hx" x="636.6" y="1063.5"/><use href="#hx" x="651.2" y="1076.0"/><use href="#hx" x="665.8" y="1088.5"/><use href="#hx" x="680.4" y="1101.0"/><use href="#hx" x="695.0" y="1113.5"/><use href="#hx" x="709.6" y="1126.0"/><use href="#hx" x="724.2" y="1138.5"/><use href="#hx" x="738.8" y="1151.0"/><use href="#hx" x="753.4" y="1163.5"/><use href="#hx" x="768.0" y="1176.0"/><use href="#hx" x="782.6" y="1188.5"/><use href="#hx" x="797.2" y="1201.0"/><use href="#hx" x="811.8" y="1213.5"/><use href="#hx" x="826.4" y="1226.0"/><use href="#hx" x="841.0" y="1238.5"/><use href="#hx" x="855.6" y="1251.0"/><use href="#hx" x="870.2" y="1263.5"/><use href="#hx" x="647.0" y="1040.0"/><use href="#hx" x="661.6" y="1052.5"/><use href="#hx" x="676.2" y="1065.0"/><use href="#hx" x="690.8" y="1077.5"/><use href="#hx" x="705.4" y="1090.0"/><use href="#hx" x="720.0" y="1102.5"/><use href="#hx" x="734.6" y="1115.0"/><use href="#hx" x="749.2" y="1127.5"/><use href="#hx" x="763.8" y="1140.0"/><use href="#hx" x="778.4" y="1152.5"/><use href="#hx" x="793.0" y="1165.0"/><use href="#hx" x="807.6" y="1177.5"/><use href="#hx" x="822.2" y="1190.0"/><use href="#hx" x="836.8" y="1202.5"/><use href="#hx" x="851.4" y="1215.0"/><use href="#hx" x="866.0" y="1227.5"/><use href="#hx" x="686.6" y="1041.5"/><use href="#hx" x="701.2" y="1054.0"/><use href="#hx" x="715.8" y="1066.5"/><use href="#hx" x="730.4" y="1079.0"/><use href="#hx" x="745.0" y="1091.5"/><use href="#hx" x="759.6" y="1104.0"/><use href="#hx" x="774.2" y="1116.5"/><use href="#hx" x="788.8" y="1129.0"/><use href="#hx" x="803.4" y="1141.5"/><use href="#hx" x="818.0" y="1154.0"/><use href="#hx" x="832.6" y="1166.5"/><use href="#hx" x="847.2" y="1179.0"/><use href="#hx" x="861.8" y="1191.5"/><use href="#hx" x="711.6" y="1030.5"/><use href="#hx" x="726.2" y="1043.0"/><use href="#hx" x="740.8" y="1055.5"/><use href="#hx" x="755.4" y="1068.0"/><use href="#hx" x="770.0" y="1080.5"/><use href="#hx" x="784.6" y="1093.0"/><use href="#hx" x="799.2" y="1105.5"/><use href="#hx" x="813.8" y="1118.0"/><use href="#hx" x="828.4" y="1130.5"/><use href="#hx" x="843.0" y="1143.0"/><use href="#hx" x="857.6" y="1155.5"/><use href="#hx" x="751.2" y="1032.0"/><use href="#hx" x="765.8" y="1044.5"/><use href="#hx" x="780.4" y="1057.0"/><use href="#hx" x="795.0" y="1069.5"/><use href="#hx" x="809.6" y="1082.0"/><use href="#hx" x="824.2" y="1094.5"/><use href="#hx" x="838.8" y="1107.0"/><use href="#hx" x="853.4" y="1119.5"/><use href="#hx" x="868.0" y="1132.0"/><use href="#hx" x="790.8" y="1033.5"/><use href="#hx" x="805.4" y="1046.0"/><use href="#hx" x="820.0" y="1058.5"/><use href="#hx" x="834.6" y="1071.0"/><use href="#hx" x="849.2" y="1083.5"/><use href="#hx" x="863.8" y="1096.0"/><use href="#hx" x="830.4" y="1035.0"/><use href="#hx" x="845.0" y="1047.5"/><use href="#hx" x="859.6" y="1060.0"/><use href="#hx" x="870.0" y="1036.5"/></g>
<polygon points="397,1205 749,1040 858,1043 855,1048 385,1266" fill="none" stroke="#141a30" stroke-width="2.5"/>
<polygon points="0,1050 76,1052 262,1190 250,1285 225,1263 0,1087" fill="#4b5987" stroke="#7181b3" stroke-width="1.2"/>
<clipPath id="hcl6"><polygon points="0,1067 63,1069 243,1207 225,1263 0,1087"/></clipPath>
<g clip-path="url(#hcl6)"><polygon points="0,1067 63,1069 243,1207 225,1263 0,1087" fill="#262626"/>
<use href="#hx" x="-11.4" y="1254.0"/><use href="#hx" x="3.2" y="1266.5"/><use href="#hx" x="-1.0" y="1230.5"/><use href="#hx" x="13.6" y="1243.0"/><use href="#hx" x="28.2" y="1255.5"/><use href="#hx" x="42.8" y="1268.0"/><use href="#hx" x="-5.2" y="1194.5"/><use href="#hx" x="9.4" y="1207.0"/><use href="#hx" x="24.0" y="1219.5"/><use href="#hx" x="38.6" y="1232.0"/><use href="#hx" x="53.2" y="1244.5"/><use href="#hx" x="67.8" y="1257.0"/><use href="#hx" x="82.4" y="1269.5"/><use href="#hx" x="-9.4" y="1158.5"/><use href="#hx" x="5.2" y="1171.0"/><use href="#hx" x="19.8" y="1183.5"/><use href="#hx" x="34.4" y="1196.0"/><use href="#hx" x="49.0" y="1208.5"/><use href="#hx" x="63.6" y="1221.0"/><use href="#hx" x="78.2" y="1233.5"/><use href="#hx" x="92.8" y="1246.0"/><use href="#hx" x="107.4" y="1258.5"/><use href="#hx" x="122.0" y="1271.0"/><use href="#hx" x="-13.6" y="1122.5"/><use href="#hx" x="1.0" y="1135.0"/><use href="#hx" x="15.6" y="1147.5"/><use href="#hx" x="30.2" y="1160.0"/><use href="#hx" x="44.8" y="1172.5"/><use href="#hx" x="59.4" y="1185.0"/><use href="#hx" x="74.0" y="1197.5"/><use href="#hx" x="88.6" y="1210.0"/><use href="#hx" x="103.2" y="1222.5"/><use href="#hx" x="117.8" y="1235.0"/><use href="#hx" x="132.4" y="1247.5"/><use href="#hx" x="147.0" y="1260.0"/><use href="#hx" x="161.6" y="1272.5"/><use href="#hx" x="-3.2" y="1099.0"/><use href="#hx" x="11.4" y="1111.5"/><use href="#hx" x="26.0" y="1124.0"/><use href="#hx" x="40.6" y="1136.5"/><use href="#hx" x="55.2" y="1149.0"/><use href="#hx" x="69.8" y="1161.5"/><use href="#hx" x="84.4" y="1174.0"/><use href="#hx" x="99.0" y="1186.5"/><use href="#hx" x="113.6" y="1199.0"/><use href="#hx" x="128.2" y="1211.5"/><use href="#hx" x="142.8" y="1224.0"/><use href="#hx" x="157.4" y="1236.5"/><use href="#hx" x="172.0" y="1249.0"/><use href="#hx" x="186.6" y="1261.5"/><use href="#hx" x="-7.4" y="1063.0"/><use href="#hx" x="7.2" y="1075.5"/><use href="#hx" x="21.8" y="1088.0"/><use href="#hx" x="36.4" y="1100.5"/><use href="#hx" x="51.0" y="1113.0"/><use href="#hx" x="65.6" y="1125.5"/><use href="#hx" x="80.2" y="1138.0"/><use href="#hx" x="94.8" y="1150.5"/><use href="#hx" x="109.4" y="1163.0"/><use href="#hx" x="124.0" y="1175.5"/><use href="#hx" x="138.6" y="1188.0"/><use href="#hx" x="153.2" y="1200.5"/><use href="#hx" x="167.8" y="1213.0"/><use href="#hx" x="182.4" y="1225.5"/><use href="#hx" x="197.0" y="1238.0"/><use href="#hx" x="211.6" y="1250.5"/><use href="#hx" x="226.2" y="1263.0"/><use href="#hx" x="32.2" y="1064.5"/><use href="#hx" x="46.8" y="1077.0"/><use href="#hx" x="61.4" y="1089.5"/><use href="#hx" x="76.0" y="1102.0"/><use href="#hx" x="90.6" y="1114.5"/><use href="#hx" x="105.2" y="1127.0"/><use href="#hx" x="119.8" y="1139.5"/><use href="#hx" x="134.4" y="1152.0"/><use href="#hx" x="149.0" y="1164.5"/><use href="#hx" x="163.6" y="1177.0"/><use href="#hx" x="178.2" y="1189.5"/><use href="#hx" x="192.8" y="1202.0"/><use href="#hx" x="207.4" y="1214.5"/><use href="#hx" x="222.0" y="1227.0"/><use href="#hx" x="236.6" y="1239.5"/><use href="#hx" x="251.2" y="1252.0"/><use href="#hx" x="71.8" y="1066.0"/><use href="#hx" x="86.4" y="1078.5"/><use href="#hx" x="101.0" y="1091.0"/><use href="#hx" x="115.6" y="1103.5"/><use href="#hx" x="130.2" y="1116.0"/><use href="#hx" x="144.8" y="1128.5"/><use href="#hx" x="159.4" y="1141.0"/><use href="#hx" x="174.0" y="1153.5"/><use href="#hx" x="188.6" y="1166.0"/><use href="#hx" x="203.2" y="1178.5"/><use href="#hx" x="217.8" y="1191.0"/><use href="#hx" x="232.4" y="1203.5"/><use href="#hx" x="247.0" y="1216.0"/><use href="#hx" x="111.4" y="1067.5"/><use href="#hx" x="126.0" y="1080.0"/><use href="#hx" x="140.6" y="1092.5"/><use href="#hx" x="155.2" y="1105.0"/><use href="#hx" x="169.8" y="1117.5"/><use href="#hx" x="184.4" y="1130.0"/><use href="#hx" x="199.0" y="1142.5"/><use href="#hx" x="213.6" y="1155.0"/><use href="#hx" x="228.2" y="1167.5"/><use href="#hx" x="242.8" y="1180.0"/><use href="#hx" x="151.0" y="1069.0"/><use href="#hx" x="165.6" y="1081.5"/><use href="#hx" x="180.2" y="1094.0"/><use href="#hx" x="194.8" y="1106.5"/><use href="#hx" x="209.4" y="1119.0"/><use href="#hx" x="224.0" y="1131.5"/><use href="#hx" x="238.6" y="1144.0"/><use href="#hx" x="253.2" y="1156.5"/><use href="#hx" x="176.0" y="1058.0"/><use href="#hx" x="190.6" y="1070.5"/><use href="#hx" x="205.2" y="1083.0"/><use href="#hx" x="219.8" y="1095.5"/><use href="#hx" x="234.4" y="1108.0"/><use href="#hx" x="249.0" y="1120.5"/><use href="#hx" x="215.6" y="1059.5"/><use href="#hx" x="230.2" y="1072.0"/><use href="#hx" x="244.8" y="1084.5"/><use href="#hx" x="255.2" y="1061.0"/></g>
<polygon points="0,1067 63,1069 243,1207 225,1263 0,1087" fill="none" stroke="#141a30" stroke-width="2.5"/>
<ellipse cx="303" cy="1257" rx="36" ry="22" fill="#1c2550"/>
<ellipse cx="303" cy="1258.5" rx="28.8" ry="18.0" fill="#0e0e0e"/>
<ellipse cx="303" cy="1256.5" rx="28.1" ry="15.8" fill="#1a1a1a" stroke="#3a3a3a" stroke-width="1"/>
<polygon points="287.88,1257 295.44,1247.76 310.56,1247.76 318.12,1257 310.56,1266.24 295.44,1266.24" fill="#060606"/>
<polygon points="291.12,1258.98 297.06,1254.36 308.94,1254.36 314.88,1258.98 308.94,1263.6 297.06,1263.6" fill="#ececec"/>
<ellipse cx="286" cy="1340" rx="25" ry="20" fill="#1c2550"/>
<ellipse cx="286" cy="1341.5" rx="20.0" ry="16.4" fill="#0e0e0e"/>
<ellipse cx="286" cy="1339.5" rx="19.5" ry="14.4" fill="#1a1a1a" stroke="#3a3a3a" stroke-width="1"/>
<polygon points="275.5,1340 280.75,1331.6 291.25,1331.6 296.5,1340 291.25,1348.4 280.75,1348.4" fill="#060606"/>
<polygon points="277.75,1341.8 281.875,1337.6 290.125,1337.6 294.25,1341.8 290.125,1346.0 281.875,1346.0" fill="#ececec"/>
<ellipse cx="6" cy="1019" rx="28" ry="21" fill="#1c2550"/>
<ellipse cx="6" cy="1020.5" rx="22.4" ry="17.2" fill="#0e0e0e"/>
<ellipse cx="6" cy="1018.5" rx="21.8" ry="15.1" fill="#1a1a1a" stroke="#3a3a3a" stroke-width="1"/>
<polygon points="-5.76,1019 0.1200000000000001,1010.18 11.879999999999999,1010.18 17.759999999999998,1019 11.879999999999999,1027.82 0.1200000000000001,1027.82" fill="#060606"/>
<polygon points="-3.24,1020.89 1.38,1016.48 10.620000000000001,1016.48 15.24,1020.89 10.620000000000001,1025.3 1.38,1025.3" fill="#ececec"/>
<polygon points="376,1323 487,1272 486,1352 482,1395 379,1440" fill="#0d0d0d"/>
<polygon points="378,1325 399,1315.13 399,1344.13 378,1354" fill="#383838"/>
<polygon points="378,1354 399,1344.13 399,1393.13 378,1403" fill="#777"/>
<polygon points="378,1403 399,1393.13 399,1426.13 378,1436" fill="#111"/>
<polygon points="401,1312 418,1304.01 418,1332.01 401,1340" fill="#9a9a9a"/>
<polygon points="401,1340 418,1332.01 418,1381.01 401,1389" fill="#d8d8d8"/>
<polygon points="401,1389 418,1381.01 418,1410.01 401,1418" fill="#151515"/>
<polygon points="418,1303 442,1291.72 442,1325.72 418,1337" fill="#3a3a3a"/>
<polygon points="418,1337 442,1325.72 442,1372.72 418,1384" fill="#747474"/>
<polygon points="418,1384 442,1372.72 442,1402.72 418,1414" fill="#121212"/>
<polygon points="444,1290 458,1283.42 458,1316.42 444,1323" fill="#a0a0a0"/>
<polygon points="444,1323 458,1316.42 458,1363.42 444,1370" fill="#dcdcdc"/>
<polygon points="444,1370 458,1363.42 458,1391.42 444,1398" fill="#151515"/>
<polygon points="460,1281 484,1269.72 484,1306.72 460,1318" fill="#383838"/>
<polygon points="460,1318 484,1306.72 484,1354.72 460,1366" fill="#707070"/>
<polygon points="460,1366 484,1354.72 484,1383.72 460,1395" fill="#111"/>
<path d="M741.2,693.1 Q737.0,684.0 741.8,675.2 L745.2,668.8 Q750.0,660.0 759.0,655.7 L766.0,652.3 Q775.0,648.0 784.5,645.0 L990.5,580.0 Q1000.0,577.0 1009.9,578.6 L1056.1,586.4 Q1066.0,588.0 1074.9,592.5 L1095.1,602.5 Q1104.0,607.0 1111.2,613.9 L1120.8,623.1 Q1128.0,630.0 1133.1,638.6 L1140.2,650.3 Q1143.0,655.0 1143.0,660.5 L1143.0,660.5 Q1143.0,666.0 1138.0,668.2 L1009.2,724.0 Q1000.0,728.0 990.4,730.7 L967.6,737.3 Q958.0,740.0 948.2,742.0 L884.8,755.0 Q875.0,757.0 865.0,757.3 L850.0,757.7 Q840.0,758.0 830.6,754.6 L824.4,752.4 Q815.0,749.0 806.5,743.8 L756.5,713.2 Q748.0,708.0 743.8,698.9 Z" fill="#0b0b0d" stroke="#1a2148" stroke-width="3"/>
<linearGradient id="camg" gradientUnits="userSpaceOnUse" x1="900" y1="0" x2="1110" y2="0"><stop offset="0" stop-color="#ddd" stop-opacity="0"/><stop offset="0.55" stop-color="#e8e8e8" stop-opacity="0.9"/><stop offset="1" stop-color="#777" stop-opacity="0.6"/></linearGradient>
<polygon points="900,606 1000,580 1066,590 1098,607 1090,614 1060,603 1000,597 900,622" fill="url(#camg)"/>
<path d="M1110,618 C1122,630 1132,645 1136,660" stroke="#e0e0e0" stroke-width="4" fill="none" opacity="0.8" stroke-linecap="round"/>
<linearGradient id="camhl" gradientUnits="userSpaceOnUse" x1="745" y1="0" x2="850" y2="0"><stop offset="0" stop-color="#bbb" stop-opacity="0.5"/><stop offset="0.45" stop-color="#f4f4f4" stop-opacity="0.9"/><stop offset="1" stop-color="#888" stop-opacity="0"/></linearGradient>
<path d="M748,690 C750,670 765,655 800,645 L850,630 L856,641 C820,652 792,662 780,672 C772,680 768,690 766,700 Z" fill="url(#camhl)"/>
<path d="M760.0,696.0 Q757.0,690.0 761.4,684.9 L763.5,682.5 Q770.0,675.0 779.3,671.6 L810.6,660.4 Q820.0,657.0 829.5,653.9 L990.5,601.1 Q1000.0,598.0 1010.0,599.0 L1050.0,603.0 Q1060.0,604.0 1069.3,607.6 L1084.7,613.4 Q1094.0,617.0 1101.2,623.9 L1107.0,629.3 Q1114.0,636.0 1117.5,645.0 L1118.7,648.1 Q1121.0,654.0 1119.0,660.0 L1119.0,660.0 Q1117.0,666.0 1111.2,668.5 L1009.2,713.0 Q1000.0,717.0 990.3,719.5 L959.7,727.5 Q950.0,730.0 940.1,731.2 L874.9,738.8 Q865.0,740.0 855.0,740.0 L845.0,740.0 Q835.0,740.0 825.7,736.3 L814.3,731.7 Q805.0,728.0 796.5,722.7 L768.7,705.5 Q763.0,702.0 760.0,696.0 Z" fill="#141416" stroke="#a8a8a8" stroke-width="1.8" stroke-opacity="0.8"/>
<ellipse cx="986" cy="626" rx="36" ry="19" fill="#1e1e1e"/>
<ellipse cx="986" cy="626" rx="33" ry="16.5" fill="none" stroke="#6e6e6e" stroke-width="3.5"/>
<ellipse cx="986" cy="626" rx="24" ry="12" fill="#2a2a2a" stroke="#505050" stroke-width="3"/>
<ellipse cx="986" cy="626" rx="8" ry="4.5" fill="#3a3a3a" stroke="#777" stroke-width="1.5"/>
<ellipse cx="987" cy="625" rx="2.5" ry="1.5" fill="#eee"/>
<ellipse cx="904" cy="659" rx="35" ry="19" fill="#1e1e1e"/>
<ellipse cx="904" cy="659" rx="32" ry="16.5" fill="none" stroke="#6e6e6e" stroke-width="3.5"/>
<ellipse cx="904" cy="659" rx="23" ry="12" fill="#2a2a2a" stroke="#505050" stroke-width="3"/>
<ellipse cx="904" cy="659" rx="8" ry="4.5" fill="#3a3a3a" stroke="#777" stroke-width="1.5"/>
<ellipse cx="905" cy="658" rx="2.5" ry="1.5" fill="#eee"/>
<ellipse cx="823" cy="692" rx="34" ry="18" fill="#1e1e1e"/>
<ellipse cx="823" cy="692" rx="31" ry="15.5" fill="none" stroke="#6e6e6e" stroke-width="3.5"/>
<ellipse cx="823" cy="692" rx="22" ry="11" fill="#2a2a2a" stroke="#505050" stroke-width="3"/>
<ellipse cx="823" cy="692" rx="8" ry="4.5" fill="#3a3a3a" stroke="#777" stroke-width="1.5"/>
<ellipse cx="824" cy="691" rx="2.5" ry="1.5" fill="#eee"/>
<ellipse cx="1053" cy="660" rx="23" ry="11.5" fill="#6a6a6a"/>
<ellipse cx="1053" cy="660" rx="19" ry="9" fill="#f0f0d0"/>
<ellipse cx="1053" cy="660" rx="9" ry="4.5" fill="#e8e890"/>
<polygon points="848,603 872,592 878,596 854,607" fill="#3c3c3c"/>
<polygon points="876,591 900,580 906,584 882,595" fill="#3c3c3c"/>
<polygon points="904,579 928,568 934,572 910,583" fill="#3c3c3c"/>
<ellipse cx="996" cy="562" rx="15" ry="5" fill="#151515"/>
<polygon points="0,942 22,933 28,938 28,946 0,957" fill="#1e1e20"/>
<polygon points="339,997 349,948 378,939 634,820 825,883 827,934 523,1069 431,1062" fill="#57658a"/>
<polyline points="378,939 349,948 339,997 431,1062 523,1069 827,934" fill="none" stroke="#1c2550" stroke-width="6" stroke-linejoin="round"/>
<polyline points="380,935 634,816 826,880 828,934" fill="none" stroke="#26305c" stroke-width="4" stroke-linejoin="round"/>
<polyline points="384,942 634,825 820,886" fill="none" stroke="#7888b8" stroke-width="1.5"/>
<polygon points="368,990 374,957 397,948 634,843 803,896 805,928 520,1047 440,1042" fill="#55638a"/>
<polyline points="440,1042 368,990 374,957 397,948 634,843 803,896" fill="none" stroke="#1f2852" stroke-width="4" stroke-linejoin="round"/>
<polyline points="442,1046 520,1051 808,930" fill="none" stroke="#7383b3" stroke-width="1.5"/>
<ellipse cx="670" cy="899" rx="138" ry="72" fill="#1e2852"/>
<path transform="translate(-2,8)" d="M445,985 C460,1003 490,1003 520,1002 L620,998 C650,995 680,980 705,966 L712,992 C685,1008 650,1020 620,1022 L520,1026 C488,1027 452,1022 436,998 Z" fill="#1c2650"/>
<path transform="translate(-2,8)" d="M565,868 L485,896 C438,910 422,958 442,986 C458,1005 490,1004 520,1003 L620,999 C652,996 682,980 708,965 L700,880 Z" fill="#222c58"/>
<path transform="translate(-2,8)" d="M565,873 L486,900 C444,913 430,957 448,982 C462,998 490,998 520,997 L618,993 C648,990 676,976 700,962 L700,886 Z" fill="#3f4c7c"/>
<path transform="translate(-2,8)" d="M565,886 L492,911 C456,923 446,958 461,977 C472,988 492,987 520,986 L615,982 C640,980 666,968 690,955 L690,895 Z" fill="#2c3764"/>
<path transform="translate(-2,8)" d="M568,892 L496,916 C464,928 456,960 468,975 C478,984 494,983 520,982 L613,978 C638,976 662,964 686,952 L686,900 Z" fill="#4f5d89"/>
<path transform="translate(-2,8)" d="M486,900 C444,913 430,957 448,982" fill="none" stroke="#7080b0" stroke-width="1.5"/>
<path transform="translate(-2,8)" d="M462,978 C472,988 492,987 520,986 L615,982 C640,980 666,968 690,955" fill="none" stroke="#6a7aaa" stroke-width="1.2"/>
</svg>
<div style="position:absolute;left:544px;top:831px;width:248px;height:124px;border-radius:50%;background:#121214;box-shadow:6px 12px 0 0 #0c0c0e;"></div>
<div style="position:absolute;left:544px;top:831px;width:248px;height:124px;border-radius:50%;box-sizing:border-box;border:3px solid #6a6a6a;background:conic-gradient(from 0deg at 50% 50%,#161616 0deg,#444 35deg,#181818 75deg,#202020 115deg,#4a4a4a 155deg,#161616 195deg,#222 235deg,#444 285deg,#161616 325deg,#161616 360deg);"></div>
<svg width="1200" height="1800" viewBox="0 0 1200 1800" style="position:absolute;left:0;top:0">
<linearGradient id="lface" gradientUnits="userSpaceOnUse" x1="569" y1="0" x2="625" y2="0"><stop offset="0" stop-color="#d9d9d9"/><stop offset="1" stop-color="#9c9c9c"/></linearGradient>
<path d="M569,858 L569,656 L617,629 L701,675 L740,742 L740,960 L707,963 L707,770 C705,722 690,690 655,683 C620,678 600,700 600,780 L600,858 Z" fill="#121214"/>
<polygon points="569,656 617,629 632,640 620,676 600,716 569,716" fill="url(#lface)"/>
<polygon points="617,629 701,675 690,686 606,642" fill="url(#silver)"/>
<polygon points="630,642 672,665 667,672 626,649" fill="#151515"/>
<polygon points="701,675 740,742 722,751 688,686" fill="#3c3c3c"/>
<polygon points="684,666 701,675 688,686 672,680" fill="#f0f0f0"/>
<polygon points="722,751 740,742 740,804 722,806" fill="#f2f2f2"/>
<polygon points="578,740 586,738 586,850 578,852" fill="#333" opacity="0.8"/>
<polygon points="712,800 718,800 718,950 712,950" fill="#333" opacity="0.7"/>
<path d="M852,1006 C780,1052 660,1075 520,1058 C420,1045 360,1000 355,940 C352,910 362,890 376,878" fill="none" stroke="url(#arr1)" stroke-width="8.5" stroke-linecap="round"/>
<polygon points="397.5,835 350,876 377,877 388,898" fill="#f5b40a"/>
<path d="M518,820 C538,720 590,650 680,628 C730,618 768,640 800,672" fill="none" stroke="url(#arr2)" stroke-width="8.5" stroke-linecap="round"/>
<polygon points="836,715 774,677 804,672 810,647" fill="#f47c08"/>
<circle cx="273" cy="932" r="65" fill="url(#cg)" opacity="0.9"/>
<circle cx="904" cy="769" r="65" fill="url(#cg)" opacity="0.9"/>
<g font-family="Liberation Sans" font-weight="bold" fill="#fff"><text transform="translate(228.50,948.5) scale(0.9045,1)" x="-1.25" y="0" font-size="52" letter-spacing="1.63" >360°</text><text transform="translate(861.00,785.5) scale(0.8995,1)" x="-3.33" y="0" font-size="52" letter-spacing="1.60" >100°</text></g></svg>
</body></html>
